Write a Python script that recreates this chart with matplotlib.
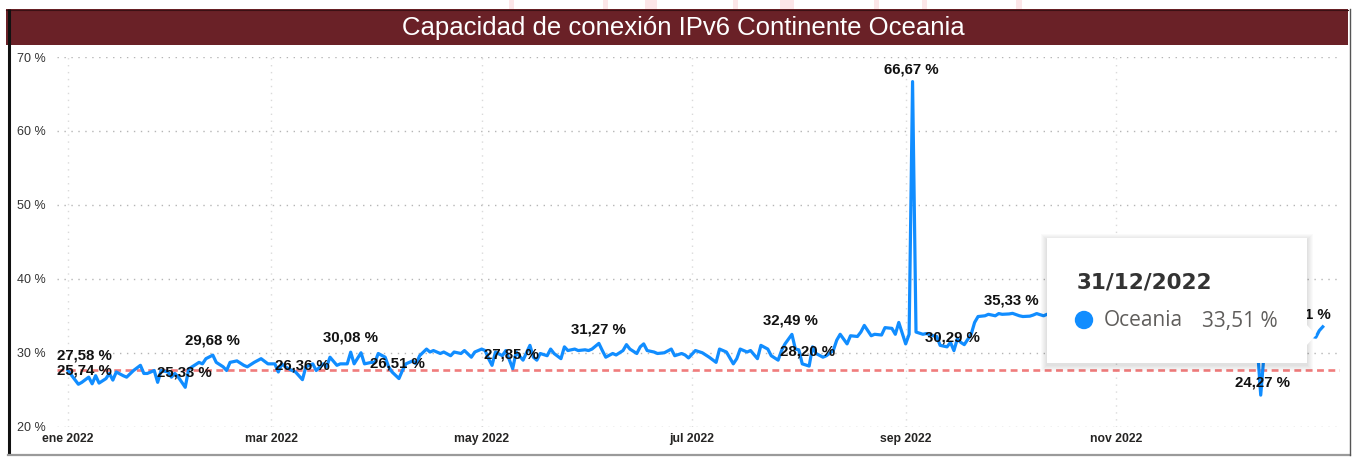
import numpy as np
import pandas as pd
import matplotlib
matplotlib.use("Agg")
import matplotlib.pyplot as plt
import matplotlib.dates as mdates
from matplotlib.patches import Rectangle, Circle, Polygon

# values (day offset from 1 Jan 2022, percent)
start = pd.Timestamp("2022-01-01")
day_offsets = [
    0, 3, 4, 6, 7, 8, 9, 11, 12, 13, 14, 16, 17, 19, 21, 22, 23, 25, 26, 27,
    29, 30, 31, 32, 34, 35, 36, 38, 39, 40, 42, 43, 45, 46, 47, 49, 51, 52, 54, 56,
    58, 60, 61, 62, 63, 65, 66, 68, 69, 71, 72, 74, 75, 76, 78, 79, 81, 82, 83, 85,
    86, 88, 89, 90, 92, 93, 94, 96, 97, 98, 100, 101, 102, 104, 105, 106, 108, 109, 111, 112,
    114, 115, 117, 118, 120, 121, 122, 123, 124, 126, 127, 129, 130, 132, 134, 135, 136, 137, 139, 140,
    141, 143, 144, 145, 147, 148, 150, 151, 152, 154, 155, 156, 158, 159, 161, 162, 163, 165, 166, 167,
    168, 170, 171, 173, 175, 176, 178, 179, 180, 182, 184, 186, 188, 189, 191, 193, 194, 195, 197, 198,
    200, 201, 203, 204, 206, 207, 208, 210, 211, 212, 213, 215, 216, 217, 219, 220, 222, 223, 224, 226,
    227, 229, 230, 231, 233, 234, 236, 237, 239, 240, 241, 243, 244, 245, 246, 248, 249, 251, 252, 253,
    255, 256, 257, 258, 259, 260, 262, 263, 264, 266, 267, 269, 270, 271, 273, 274, 276, 277, 279, 280,
    281, 283, 284, 286, 290, 295, 300, 305, 310, 315, 320, 325, 330, 335, 340, 344, 345, 346, 347, 350,
    355, 360, 362, 363, 364,
]
values = [
    27.58, 25.74, 26.0, 26.7, 25.8, 26.9, 25.9, 26.5, 27.2, 26.3, 27.4, 26.9, 26.7, 27.6, 28.3, 27.2, 27.2, 27.6, 26.0, 27.6,
    27.4, 26.7, 27.2, 26.7, 25.33, 27.8, 28.1, 28.7, 28.5, 29.2, 29.68, 28.7, 28.1, 27.6, 28.7, 28.9, 28.3, 28.1, 28.7, 29.2,
    28.5, 28.5, 27.4, 28.5, 28.1, 27.6, 27.4, 26.36, 28.1, 28.5, 27.6, 28.5, 28.1, 29.4, 28.3, 28.5, 28.5, 30.08, 28.5, 30.0,
    28.5, 28.7, 28.7, 29.9, 29.4, 28.1, 27.4, 26.51, 27.6, 28.5, 28.9, 28.5, 29.6, 30.5, 30.1, 30.3, 29.9, 30.1, 29.6, 30.1,
    29.9, 30.3, 29.4, 30.1, 30.5, 30.3, 29.2, 28.3, 30.1, 29.6, 30.3, 27.85, 30.1, 29.0, 31.0, 29.4, 29.0, 29.9, 29.6, 30.5,
    29.9, 29.2, 30.8, 30.3, 30.5, 30.3, 30.4, 30.3, 30.5, 31.27, 30.3, 29.4, 29.9, 29.7, 30.3, 31.1, 30.5, 29.9, 30.8, 31.2,
    30.3, 30.1, 29.9, 30.0, 30.5, 29.6, 29.9, 29.7, 29.3, 30.3, 30.0, 29.4, 28.7, 30.5, 30.1, 28.5, 29.2, 30.5, 30.1, 30.3,
    29.2, 31.0, 30.5, 29.6, 29.0, 30.3, 31.2, 32.49, 30.5, 30.4, 28.5, 28.20, 30.8, 29.9, 29.4, 29.6, 30.3, 31.7, 32.5, 31.2,
    32.3, 32.2, 32.8, 33.7, 32.3, 32.5, 32.4, 33.4, 33.3, 32.5, 34.1, 31.2, 32.5, 66.67, 32.8, 32.5, 32.6, 32.3, 32.2, 31.0,
    30.8, 31.4, 30.29, 31.9, 31.4, 31.1, 32.5, 34.1, 34.9, 35.0, 35.2, 35.0, 35.3, 35.2, 35.25, 35.33, 35.0, 34.9, 34.95, 35.1,
    35.3, 35.0, 35.2, 35.1, 35.2, 35.0, 35.1, 35.2, 35.0, 35.1, 35.2, 35.0, 34.8, 35.0, 34.5, 33.0, 31.0, 24.27, 30.0, 31.5,
    32.0, 32.3, 32.1, 33.0, 33.51,
]
average = 27.72

tick_dates = ["2022-01-01", "2022-03-01", "2022-05-01", "2022-07-01", "2022-09-01", "2022-11-01"]
tick_labels = ["ene 2022", "mar 2022", "may 2022", "jul 2022", "sep 2022", "nov 2022"]
y_ticks = [20, 30, 40, 50, 60, 70]

label_texts = ["27,58 %", "25,74 %", "29,68 %", "25,33 %", "26,36 %", "30,08 %", "26,51 %", "27,85 %",
               "31,27 %", "32,49 %", "28,20 %", "66,67 %", "30,29 %", "35,33 %", "24,27 %", "33,51 %"]
label_days = [4.9, 4.9, 41.9, 33.7, 67.9, 81.8, 95.7, 128.5, 153.8, 209.6, 214.5, 244.6, 256.5, 273.6, 346.4, 358.3]
label_levels = [29.64, 27.62, 31.65, 27.39, 28.29, 32.1, 28.52, 29.77, 33.09, 34.34, 30.22, 68.37, 32.06, 37.03, 26.0, 35.2]

W, H = 1354, 457
fig = plt.figure(figsize=(W / 100, H / 100), dpi=100)
fig.patch.set_facecolor("white")

ax = fig.add_axes([57 / W, 30.3 / H, 1283 / W, 369.7 / H])
dates = start + pd.to_timedelta(day_offsets, unit="D")
ax.plot(dates, values, color="#118DFF", lw=2.3, solid_joinstyle="round", zorder=3)
ax.axhline(average, color="#F07C7C", lw=1.9, ls=(0, (2.6, 1.7)), zorder=2)

for txt, d, lv in zip(label_texts, label_days, label_levels):
    ax.text(start + pd.Timedelta(days=d), lv, txt, ha="center", va="center",
            fontsize=10.8, fontweight="bold", family="Liberation Sans", color="#111111", zorder=4)

x0 = mdates.date2num(start)
ax.set_xlim(x0 - 3.2, x0 + 369.0)
ax.set_ylim(20, 70)
ax.set_yticks(y_ticks)
ax.set_yticklabels([f"{v} %" for v in y_ticks], family="Liberation Sans", fontsize=9, color="#333333")
ax.set_xticks(pd.to_datetime(tick_dates))
ax.set_xticklabels(tick_labels, family="Liberation Sans", fontsize=8.8, fontweight="bold", color="#252423")
ax.tick_params(length=0)
ax.tick_params(axis="y", pad=8)
ax.tick_params(axis="x", pad=4.5)
for s in ax.spines.values():
    s.set_visible(False)
ax.grid(axis="y", color="#B5B5B5", lw=1.0, ls=(0, (1, 4)))
ax.grid(axis="x", color="#DADADA", lw=1.0, ls=(0, (1, 4)))
ax.set_axisbelow(True)

# overlay in pixel coordinates: title bar, frame, tooltip
ov = fig.add_axes([0, 0, 1, 1], zorder=10)
ov.set_xlim(0, W)
ov.set_ylim(H, 0)
ov.axis("off")
ov.patch.set_alpha(0)

# faint watermark pieces above the title bar
for px, pw in [(509, 5), (603, 5), (645, 12), (733, 5), (780, 14), (874, 5), (922, 5), (1016, 6)]:
    ov.add_patch(Rectangle((px, 0), pw, 9, color="#FCE6E8", lw=0))

ov.add_patch(Rectangle((6, 9), 1342, 36, color="#6A2127", lw=0))
ov.plot([6, 1348], [9.5, 9.5], color="#3A1014", lw=0.8)
ov.text(683, 27.5, "Capacidad de conexión IPv6 Continente Oceania", color="white",
        ha="center", va="center", fontsize=18.5, family="Liberation Sans")
ov.plot([8.5, 8.5], [9, 455], color="#111111", lw=2.2, solid_capstyle="butt")
ov.plot([8, 1350], [455, 455], color="#9A9A9A", lw=1.6)
ov.plot([1349.5, 1349.5], [9, 455], color="#555555", lw=1.0)

for i in range(1, 7):
    ov.add_patch(Rectangle((1047 - i, 238 - i + 2), 260 + 2 * i, 125 + 2 * i,
                           color="black", alpha=0.018, lw=0))
ov.add_patch(Rectangle((1047, 238), 260, 125, color="white", lw=0))
ov.add_patch(Polygon([(1306, 324), (1316, 335), (1306, 346)], closed=True, color="white", lw=0))
ov.text(1077, 283, "31/12/2022", ha="left", va="center", fontsize=15.5,
        fontweight="bold", family="DejaVu Sans", color="#333333")
ov.add_patch(Circle((1084, 320), 8.5, color="#118DFF"))
ov.text(1104, 321, "Oceania", ha="left", va="center", fontsize=15,
        family="Open Sans", color="#605E5C")
ov.text(1202, 321, "33,51 %", ha="left", va="center", fontsize=15,
        family="Open Sans", color="#605E5C")

fig.savefig("out.png", dpi=100)
